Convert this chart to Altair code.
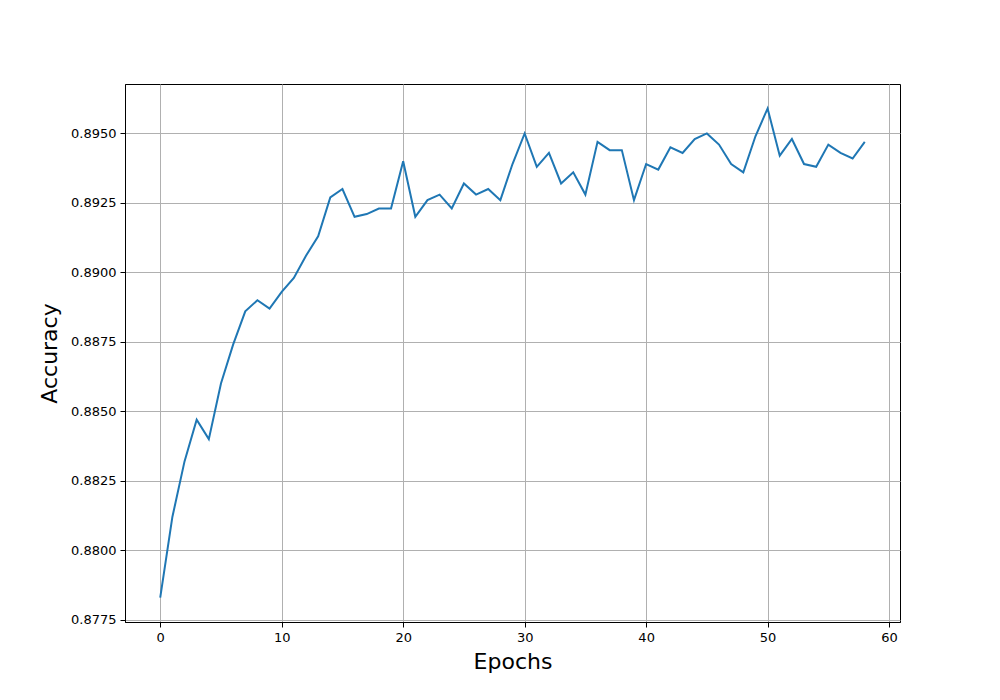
import altair as alt
import pandas as pd

epochs = list(range(59))
accuracy = [
    0.8783, 0.8812, 0.8832, 0.8847, 0.8840, 0.8860, 0.8874, 0.8886, 0.8890, 0.8887,
    0.8893, 0.8898, 0.8906, 0.8913, 0.8927, 0.8930, 0.8920, 0.8921, 0.8923, 0.8923,
    0.8940, 0.8920, 0.8926, 0.8928, 0.8923, 0.8932, 0.8928, 0.8930, 0.8926, 0.8939,
    0.8950, 0.8938, 0.8943, 0.8932, 0.8936, 0.8928, 0.8947, 0.8944, 0.8944, 0.8926,
    0.8939, 0.8937, 0.8945, 0.8943, 0.8948, 0.8950, 0.8946, 0.8939, 0.8936, 0.8949,
    0.8959, 0.8942, 0.8948, 0.8939, 0.8938, 0.8946, 0.8943, 0.8941, 0.8947,
]
x_ticks = [0, 10, 20, 30, 40, 50, 60]
y_ticks = [0.8775, 0.8800, 0.8825, 0.8850, 0.8875, 0.8900, 0.8925, 0.8950]

df = pd.DataFrame({"Epochs": epochs, "Accuracy": accuracy})

chart = alt.Chart(df).mark_line(color="#1f77b4", strokeWidth=2).encode(
    x=alt.X("Epochs:Q",
            scale=alt.Scale(domain=[-2.9, 60.9], nice=False, zero=False),
            axis=alt.Axis(values=x_ticks, title="Epochs", format="d")),
    y=alt.Y("Accuracy:Q",
            scale=alt.Scale(domain=[0.87742, 0.89678], nice=False, zero=False),
            axis=alt.Axis(values=y_ticks, title="Accuracy", format=".4f")),
).properties(
    width=775,
    height=538,
    autosize=alt.AutoSizeParams(type="none"),
    padding={"left": 117, "top": 76, "right": 92, "bottom": 70},
).configure_view(
    stroke="black", strokeWidth=1
).configure_axis(
    domainColor="black",
    domainWidth=1,
    tickColor="black",
    tickSize=5,
    tickWidth=1,
    labelFont="DejaVu Sans",
    labelFontSize=13,
    labelColor="black",
    labelPadding=4,
    titleFont="DejaVu Sans",
    titleFontSize=22,
    titleFontWeight="normal",
    titleColor="black",
    grid=True,
    gridColor="#b0b0b0",
    gridWidth=1,
).configure_axisX(
    titlePadding=7,
).configure_axisY(
    titlePadding=9,
)

chart.save("out.html", embed_options={"renderer": "svg", "actions": False})
